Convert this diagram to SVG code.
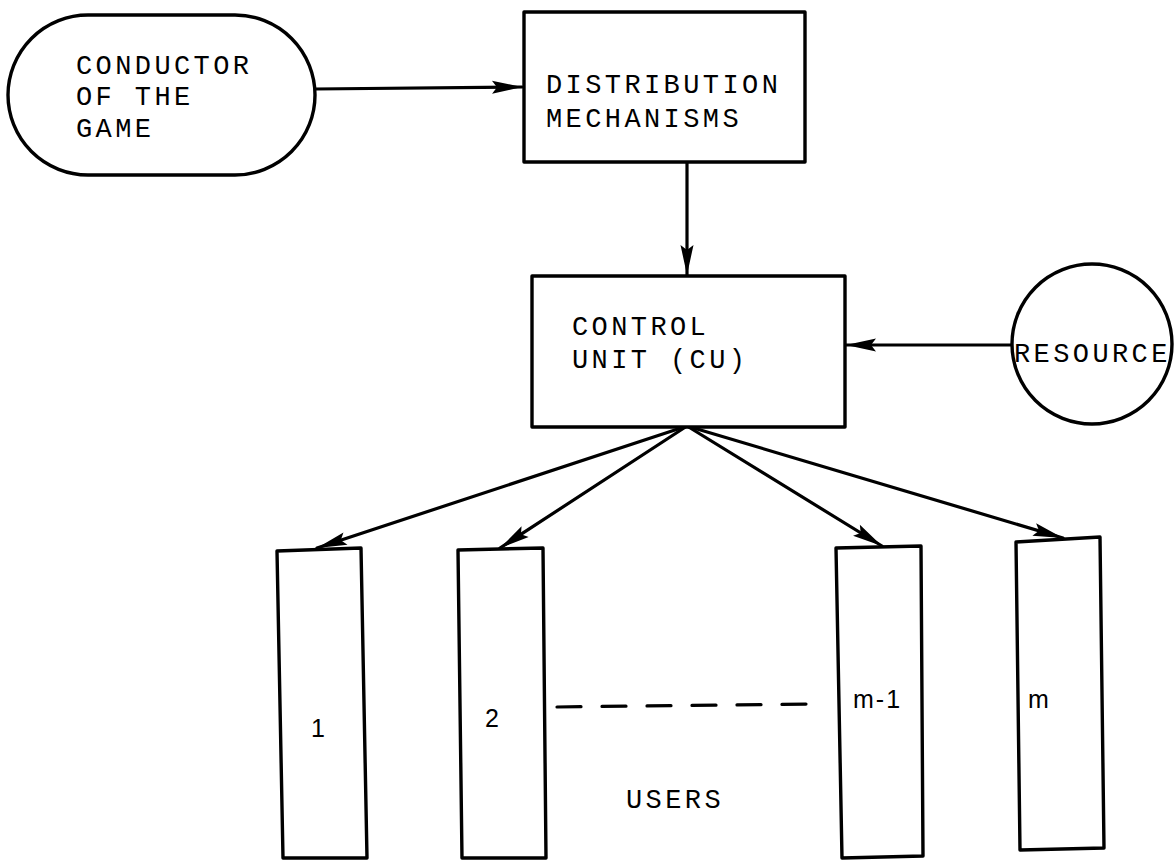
<svg xmlns="http://www.w3.org/2000/svg" width="1174" height="861" viewBox="0 0 1174 861">
  <style>
    .shape { fill: #ffffff; stroke: #000000; stroke-width: 3.4; stroke-linejoin: round; }
    .link { fill: none; stroke: #000000; stroke-width: 3.2; stroke-linecap: round; }
    .dash { fill: none; stroke: #000000; stroke-width: 3.2; stroke-dasharray: 24 21; stroke-linecap: round; }
    .label { font-family: "Liberation Mono", "DejaVu Sans Mono", monospace; font-size: 27px; letter-spacing: 3.4px; fill: #000000; }
    .num { font-family: "Liberation Sans", "DejaVu Sans", sans-serif; font-size: 25px; fill: #000000; }
  </style>
  <defs>
    <marker id="head" viewBox="-32 -8 34 16" refX="0" refY="0" markerWidth="34" markerHeight="16" markerUnits="userSpaceOnUse" orient="auto">
      <path d="M0,0 L-30,-6.5 L-25,0 L-30,6.5 Z" fill="#000000"/>
    </marker>
  </defs>
  <rect width="1174" height="861" fill="#ffffff"/>

  <!-- connectors -->
  <g id="connectors">
    <line class="link" x1="315" y1="89" x2="522" y2="87" marker-end="url(#head)"/>
    <line class="link" x1="687" y1="162" x2="687" y2="275" marker-end="url(#head)"/>
    <line class="link" x1="1012" y1="345" x2="846" y2="345" marker-end="url(#head)"/>
    <line class="link" x1="687" y1="426" x2="317" y2="548" marker-end="url(#head)"/>
    <line class="link" x1="687" y1="426" x2="500" y2="548" marker-end="url(#head)"/>
    <line class="link" x1="687" y1="426" x2="882" y2="546" marker-end="url(#head)"/>
    <line class="link" x1="687" y1="426" x2="1063" y2="538" marker-end="url(#head)"/>
    <line class="dash" x1="557" y1="707" x2="813" y2="704"/>
  </g>

  <!-- conductor of the game -->
  <g id="conductor">
    <path class="shape" d="M88,15 L235,15 A80,80 0 0 1 235,175 L88,175 A80,80 0 0 1 88,15 Z"/>
    <text class="label" x="76" y="74">CONDUCTOR</text>
    <text class="label" x="76" y="105">OF THE</text>
    <text class="label" x="76" y="137">GAME</text>
  </g>

  <!-- distribution mechanisms -->
  <g id="distribution">
    <rect class="shape" x="524" y="12" width="281" height="150"/>
    <text class="label" x="546" y="93">DISTRIBUTION</text>
    <text class="label" x="546" y="127">MECHANISMS</text>
  </g>

  <!-- control unit -->
  <g id="control-unit">
    <rect class="shape" x="532" y="276" width="313" height="151"/>
    <text class="label" x="572" y="335">CONTROL</text>
    <text class="label" x="572" y="368">UNIT (CU)</text>
  </g>

  <!-- resource -->
  <g id="resource">
    <circle class="shape" cx="1092" cy="344" r="80"/>
    <text class="label" x="1014" y="362">RESOURCE</text>
  </g>

  <!-- users -->
  <g id="user-1">
    <polygon class="shape" points="277,551 361,548 367,858 283,858"/>
    <text class="num" x="318" y="737" text-anchor="middle">1</text>
  </g>
  <g id="user-2">
    <polygon class="shape" points="458,550 543,548 546,858 462,858"/>
    <text class="num" x="492" y="727" text-anchor="middle">2</text>
  </g>
  <g id="user-m-1">
    <polygon class="shape" points="836,548 921,546 923,856 842,858"/>
    <text class="num" x="853" y="708" letter-spacing="2">m-1</text>
  </g>
  <g id="user-m">
    <polygon class="shape" points="1016,542 1100,537 1104,848 1020,850"/>
    <text class="num" x="1028" y="708">m</text>
  </g>
  <g id="users-label">
    <text class="label" x="626" y="808">USERS</text>
  </g>
</svg>
